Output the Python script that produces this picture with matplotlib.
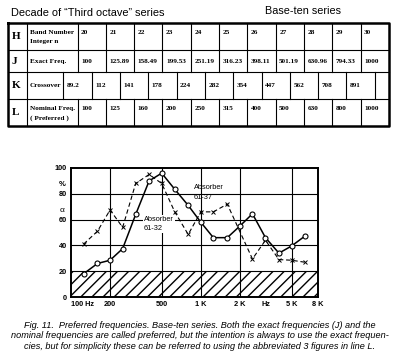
import matplotlib
matplotlib.use("Agg")
import matplotlib.pyplot as plt

# ---------------------------------------------------------------------------
# Tablo verisi
# ---------------------------------------------------------------------------
row_letters = ["H", "J", "K", "L"]
band_numbers = ["20", "21", "22", "23", "24", "25", "26", "27", "28", "29", "30"]
exact_freqs = ["100", "125.89", "158.49", "199.53", "251.19", "316.23",
               "398.11", "501.19", "630.96", "794.33", "1000"]
crossovers = ["89.2", "112", "141", "178", "224", "282", "354", "447",
              "562", "708", "891"]
nominal_freqs = ["100", "125", "160", "200", "250", "315", "400", "500",
                 "630", "800", "1000"]

# ---------------------------------------------------------------------------
# Grafik verisi (emme katsayısı, %)
# ---------------------------------------------------------------------------
freqs = [125, 160, 200, 250, 315, 400, 500, 630, 800, 1000, 1250, 1600,
         2000, 2500, 3150, 4000, 5000, 6300]
absorber_61_32 = [18, 26, 28.5, 37.5, 64, 90, 96, 83.5, 71, 58, 46, 46,
                  55, 64.5, 46, 34, 39.5, 47]
freqs_61_37 = [125, 160, 200, 250, 315, 400, 500, 630, 800, 1000, 1250,
               1600, 2500, 3150, 4000, 5000, 6300]
absorber_61_37 = [41, 51, 67.5, 54, 88, 95, 88, 66, 48.5, 66, 66, 72,
                  29.5, 44, 29, 28.5, 27]

x_ticks = [100, 200, 500, 1000, 2000, 3200, 5000, 8000]
x_ticklabels = ["100 Hz", "200", "500", "1 K", "2 K", "Hz", "5 K", "8 K"]
y_ticks = [0, 20, 40, 60, 80, 100]

caption = ("Fig. 11.  Preferred frequencies. Base-ten series. Both the exact frequencies (J) and the\n"
           "nominal frequencies are called preferred, but the intention is always to use the exact frequen-\n"
           "cies, but for simplicity these can be referred to using the abbreviated 3 figures in line L.")

W, H = 400, 359
fig = plt.figure(figsize=(W / 100, H / 100), dpi=100)

# ---------------------------------------------------------------------------
# Tablo (piksel koordinatlı tam sayfa eksen)
# ---------------------------------------------------------------------------
tab = fig.add_axes([0, 0, 1, 1])
tab.set_xlim(0, W)
tab.set_ylim(H, 0)
tab.axis("off")

sans = "Liberation Sans"
serif = "Liberation Serif"

tab.text(11, 13, "Decade of \u201cThird octave\u201d series", fontsize=7.9,
         family=sans, va="center", ha="left")
tab.text(265, 11, "Base-ten series", fontsize=7.8, family=sans,
         va="center", ha="left")

left, right = 8, 389
row_y = [23, 50, 72, 99, 126]
col0, col1 = 27, 77.5
cell_w = (right - col1) / 11
k_start = 63.3

lw = 0.8
# iç çizgiler
for y in row_y[1:-1]:
    tab.plot([left, right], [y, y], color="black", lw=lw)
tab.plot([col0, col0], [row_y[0], row_y[-1]], color="black", lw=lw)
for r in (0, 1, 3):
    y0, y1 = row_y[r], row_y[r + 1]
    for i in range(11):
        x = col1 + i * cell_w
        tab.plot([x, x], [y0, y1], color="black", lw=lw)
for i in range(12):
    x = k_start + i * cell_w
    tab.plot([x, x], [row_y[2], row_y[3]], color="black", lw=lw)
# dış çerçeve
tab.plot([left, right, right, left, left],
         [row_y[0], row_y[0], row_y[-1], row_y[-1], row_y[0]],
         color="black", lw=1.8)

fs = 5.2
for r, letter in enumerate(row_letters):
    yc = (row_y[r] + row_y[r + 1]) / 2
    tab.text(12, yc, letter, fontsize=8, family=serif, weight="bold",
             va="center", ha="left")

tab.text(30, 32, "Band Number", fontsize=fs, family=serif, weight="bold", va="center")
tab.text(30, 41, "Integer n", fontsize=fs, family=serif, weight="bold", va="center")
tab.text(30, 61.5, "Exact Freq.", fontsize=fs, family=serif, weight="bold", va="center")
tab.text(30, 85.5, "Crossover", fontsize=fs, family=serif, weight="bold", va="center")
tab.text(30, 108.5, "Nominal Freq.", fontsize=fs, family=serif, weight="bold", va="center")
tab.text(30, 118, "( Preferred )", fontsize=fs, family=serif, weight="bold", va="center")

for i in range(11):
    x = col1 + i * cell_w + 3.5
    tab.text(x, 32, band_numbers[i], fontsize=fs, family=serif, weight="bold", va="center")
    tab.text(x, 61.5, exact_freqs[i], fontsize=fs, family=serif, weight="bold", va="center")
    tab.text(x, 108.5, nominal_freqs[i], fontsize=fs, family=serif, weight="bold", va="center")
    tab.text(k_start + i * cell_w + 3.5, 85.5, crossovers[i], fontsize=fs,
             family=serif, weight="bold", va="center")

# ---------------------------------------------------------------------------
# Emme katsayısı grafiği
# ---------------------------------------------------------------------------
px_l, px_r, px_t, px_b = 71, 318, 168, 297
ax = fig.add_axes([px_l / W, 1 - px_b / H, (px_r - px_l) / W, (px_b - px_t) / H])
ax.set_xscale("log")
ax.set_xlim(100, 8000)
ax.set_ylim(0, 100)

ax.fill_between([100, 8000], 0, 20, facecolor="none", edgecolor="black",
                hatch="///", linewidth=0)

for x in [200, 500, 1000, 2000, 5000]:
    ax.axvline(x, color="black", lw=0.8)
for y in [20, 40, 60, 80]:
    ax.axhline(y, color="black", lw=0.8)

ax.plot(freqs_61_37, absorber_61_37, color="black", ls=(0, (4, 2.5)), lw=0.8,
        marker="x", ms=2.5, mew=0.7)
ax.plot(freqs, absorber_61_32, color="black", lw=1.1, marker="o", ms=3.6,
        mfc="white", mec="black", mew=0.8)

ax.text(880, 81, "Absorber\n61-37", fontsize=5.3, family=sans,
        va="center", ha="left", linespacing=1.5)
ax.text(365, 56.5, "Absorber\n61-32", fontsize=5.3, family=sans,
        va="center", ha="left", linespacing=1.5,
        bbox=dict(facecolor="white", edgecolor="none", pad=0.5))

ax.set_xticks(x_ticks)
ax.set_xticklabels(x_ticklabels, fontsize=5.3, family=sans, weight="bold")
ax.get_xticklabels()[0].set_horizontalalignment("left")
ax.minorticks_off()
ax.set_yticks(y_ticks)
ax.set_yticklabels([str(v) for v in y_ticks], fontsize=5.3, family=sans, weight="bold")
ax.tick_params(length=0, pad=3)
ax.text(-0.036, 87.5, "%", transform=ax.get_yaxis_transform(), fontsize=5.5,
        family=sans, weight="bold", ha="center", va="center")
ax.text(-0.036, 67, "\u03b1", transform=ax.get_yaxis_transform(), fontsize=6,
        family=sans, ha="center", va="center")
for s in ax.spines.values():
    s.set_linewidth(1.4)

# ---------------------------------------------------------------------------
# Alt yazı
# ---------------------------------------------------------------------------
tab.text(200, 336, caption, fontsize=6.6, family=sans, style="italic",
         ha="center", va="center", linespacing=1.2)

fig.savefig("out.png", dpi=100)
